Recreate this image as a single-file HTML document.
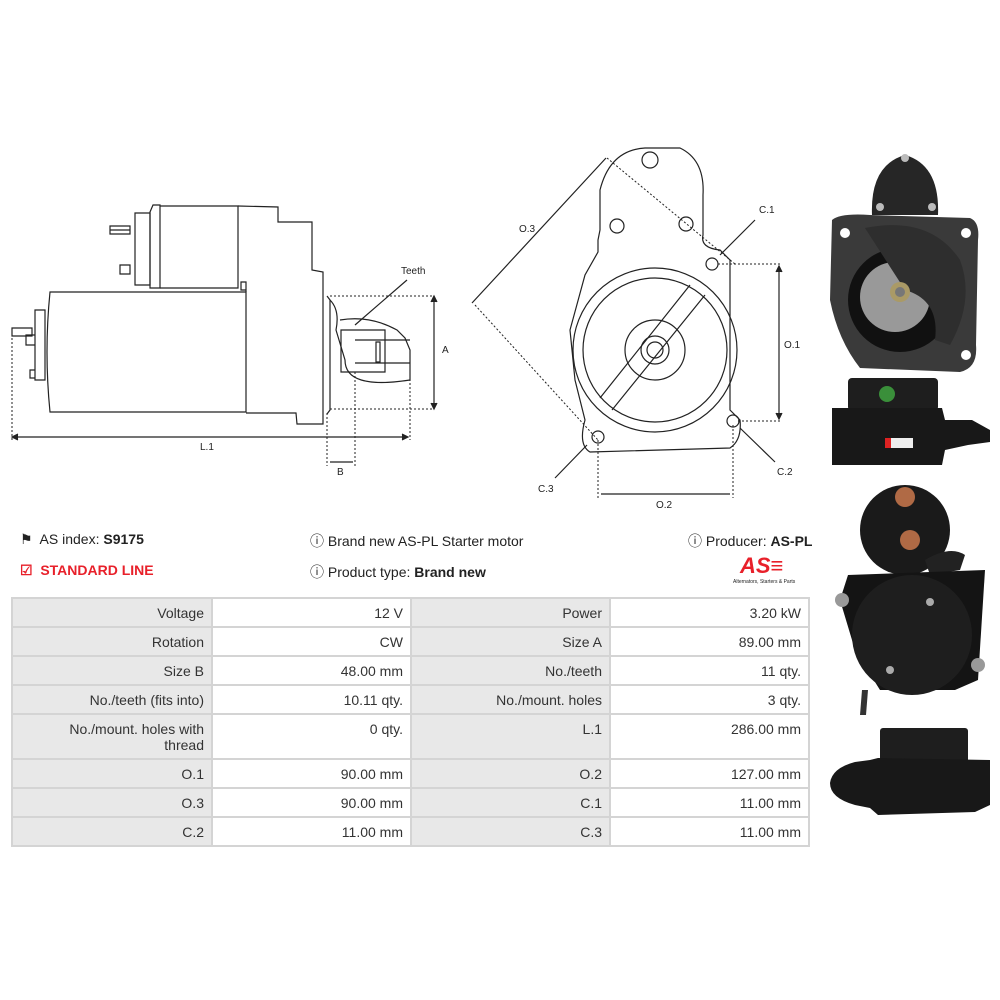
<!DOCTYPE html>
<html><head><meta charset="utf-8"><style>
body{margin:0;width:1000px;height:1000px;background:#fff;font-family:"Liberation Sans",sans-serif;position:relative;overflow:hidden;color:#222}
.t{position:absolute;font-size:14px;white-space:nowrap}
table{position:absolute;left:11px;top:597px;border-collapse:collapse;font-size:14px;color:#333}
td{border:2px solid #d4d4d4;text-align:right;padding:0 7px;vertical-align:top;padding-top:6px;height:21px}
td.g{background:#e8e8e8}
</style></head><body>
<svg width="1000" height="520" style="position:absolute;left:0;top:0" fill="none" stroke="#222" stroke-width="1.2">
<path d="M50 292 L246 292 L246 412 L50 412 Q44 352 50 292Z"/>
<path d="M246 292 L246 282 L241 282 L241 290 L246 290"/>
<path d="M153 205 L150 212 L150 288 L160 288 L160 205Z"/>
<path d="M160 206 L238 206 L238 288 L160 288"/>
<path d="M238 206 L278 207 L278 222 L312 222 L312 270 L323 272 L323 424 L297 424 L296 413 L246 413"/>
<path d="M135 213 L150 213 L150 285 L135 285Z"/>
<path d="M110 230 L130 230 M110 226 L130 226 L130 234 L110 234Z M120 265 L130 265 L130 274 L120 274Z"/>
<path d="M35 310 L45 310 L45 380 L35 380Z M26 335 L35 335 L35 345 L26 345Z M30 370 L35 370 L35 378 L30 378Z M12 328 L32 328 L32 336 L12 336Z"/>
<path d="M327 296 L330 300 L330 410 L327 414"/>
<path d="M330 300 Q340 310 336 330 L345 360 Q345 390 410 380 L410 350 L405 338 L397 330 Q370 315 340 320"/>
<path d="M341 330 L385 330 L385 372 L341 372Z M376 342 L380 342 L380 362 L376 362Z M355 340 L410 340 M355 363 L410 363"/>
<g stroke-dasharray="2,2" stroke-width="1">
<path d="M330 296 L433 296 M330 409 L433 409 M12 338 L12 440 M410 363 L410 440 M327 413 L327 466 M355 372 L355 466"/>
</g>
<path d="M434 298 L434 407 M14 437 L406 437 M330 462 L353 462" />
<path d="M431 302 L434 296 L437 302 M431 403 L434 409 L437 403 M18 434 L12 437 L18 440 M402 434 L408 437 L402 440" fill="#222"/>
<path d="M355 325 L407 280"/>
<path d="M598 240 L600 230 L600 190 Q610 150 645 148 L680 148 Q705 160 703 195 L703 235 Q700 248 720 250 L730 260 L730 410 L740 420 Q742 440 730 448 L590 452 Q578 445 585 420 L575 380 L570 330 L585 275 L598 252Z"/>
<circle cx="650" cy="160" r="8"/><circle cx="617" cy="226" r="7"/><circle cx="686" cy="224" r="7"/>
<circle cx="712" cy="264" r="6"/><circle cx="733" cy="421" r="6"/><circle cx="598" cy="437" r="6"/>
<circle cx="655" cy="350" r="82"/><circle cx="655" cy="350" r="72"/><circle cx="655" cy="350" r="30"/><circle cx="655" cy="350" r="14"/><circle cx="655" cy="350" r="8"/>
<path d="M600 398 L690 285 M612 410 L705 295"/>
<g stroke-dasharray="2,2" stroke-width="1">
<path d="M607 158 L735 264 M718 264 L780 264 M738 421 L780 421 M598 440 L598 498 M733 425 L733 498 M475 305 L598 440"/>
</g>
<path d="M779 268 L779 417 M601 494 L730 494 M472 303 L606 158 M720 255 L755 220 M587 445 L555 478 M740 428 L775 462"/>
<path d="M776 272 L779 266 L782 272 M776 413 L779 419 L782 413" fill="#222"/>
</svg>
<svg width="1000" height="1000" style="position:absolute;left:0;top:0" stroke="none">
<!-- photo 1 -->
<path d="M872 215 Q870 165 905 155 Q940 165 938 215Z" fill="#262626"/>
<circle cx="905" cy="158" r="4" fill="#bbb"/><circle cx="880" cy="207" r="4" fill="#bbb"/><circle cx="932" cy="207" r="4" fill="#bbb"/>
<path d="M832 220 Q840 213 870 215 L970 218 Q980 222 978 240 L976 345 Q978 368 960 372 L860 368 Q838 340 830 300Z" fill="#3a3a3a"/>
<circle cx="845" cy="233" r="5" fill="#fff"/><circle cx="966" cy="233" r="5" fill="#fff"/><circle cx="966" cy="355" r="5" fill="#fff"/>
<circle cx="900" cy="300" r="52" fill="#111"/>
<circle cx="895" cy="297" r="35" fill="#999"/>
<path d="M865 228 Q930 215 960 260 Q975 300 950 345 L935 340 Q940 300 905 290 Z" fill="#2e2e2e"/>
<circle cx="900" cy="292" r="10" fill="#aa9a66"/><circle cx="900" cy="292" r="5" fill="#777"/>
<!-- photo 2 -->
<rect x="848" y="378" width="90" height="33" rx="4" fill="#1e1e1e"/>
<circle cx="887" cy="394" r="8" fill="#3a8f3a"/>
<path d="M832 408 L942 408 L945 420 L972 420 L990 430 L990 442 L968 445 L945 450 L942 465 L832 465 Z" fill="#181818"/>
<rect x="885" y="438" width="28" height="10" fill="#eee"/><rect x="885" y="438" width="6" height="10" fill="#d22"/>
<!-- photo 3 -->
<circle cx="905" cy="530" r="45" fill="#1a1a1a"/>
<circle cx="905" cy="497" r="10" fill="#b06a45"/><circle cx="910" cy="540" r="10" fill="#b06a45"/>
<path d="M925 560 Q950 545 965 555 L960 570 L930 575Z" fill="#222"/>
<path d="M848 575 L985 570 L978 680 L955 690 L880 690 L855 650 L840 600Z" fill="#141414"/>
<circle cx="912" cy="635" r="60" fill="#1e1e1e"/>
<circle cx="842" cy="600" r="7" fill="#999"/><circle cx="978" cy="665" r="7" fill="#999"/>
<circle cx="930" cy="602" r="4" fill="#aaa"/><circle cx="890" cy="670" r="4" fill="#aaa"/>
<path d="M862 690 L860 715 L866 715 L868 690Z" fill="#333"/>
<!-- photo 4 -->
<rect x="880" y="728" width="88" height="35" rx="3" fill="#1e1e1e"/>
<path d="M878 758 L990 760 L990 805 L975 812 L878 815 L870 808 L855 805 Q830 798 830 783 Q832 768 855 762 L870 760Z" fill="#181818"/>
</svg>
<div class="t" style="left:20px;top:531px">&#9873;&nbsp; AS index: <b>S9175</b></div>
<div class="t" style="left:20px;top:562px;color:#e8202a;font-weight:bold">&#9745;&nbsp; STANDARD LINE</div>
<div class="t" style="left:310px;top:531px">&#9432; Brand new AS-PL Starter motor</div>
<div class="t" style="left:310px;top:562px">&#9432; Product type: <b>Brand new</b></div>
<div class="t" style="left:688px;top:531px">&#9432; Producer: <b>AS-PL</b></div>
<div class="t" style="left:740px;top:553px;color:#e8202a;font-weight:bold;font-style:italic;font-size:22px">AS≡</div>
<div class="t" style="left:733px;top:579px;font-size:5px">Alternators, Starters &amp; Parts</div>
<div class="t" style="left:401px;top:266px;font-size:10px">Teeth</div>
<div class="t" style="left:442px;top:345px;font-size:10px">A</div>
<div class="t" style="left:200px;top:442px;font-size:10px">L.1</div>
<div class="t" style="left:337px;top:467px;font-size:10px">B</div>
<div class="t" style="left:519px;top:224px;font-size:10px">O.3</div>
<div class="t" style="left:759px;top:205px;font-size:10px">C.1</div>
<div class="t" style="left:784px;top:340px;font-size:10px">O.1</div>
<div class="t" style="left:777px;top:467px;font-size:10px">C.2</div>
<div class="t" style="left:538px;top:484px;font-size:10px">C.3</div>
<div class="t" style="left:656px;top:500px;font-size:10px">O.2</div>
<table>
<colgroup><col style="width:200px"><col style="width:199px"><col style="width:199px"><col style="width:199px"></colgroup>
<tr><td class="g">Voltage</td><td>12 V</td><td class="g">Power</td><td>3.20 kW</td></tr>
<tr><td class="g">Rotation</td><td>CW</td><td class="g">Size A</td><td>89.00 mm</td></tr>
<tr><td class="g">Size B</td><td>48.00 mm</td><td class="g">No./teeth</td><td>11 qty.</td></tr>
<tr><td class="g">No./teeth (fits into)</td><td>10.11 qty.</td><td class="g">No./mount. holes</td><td>3 qty.</td></tr>
<tr><td class="g" style="height:37px">No./mount. holes with<br>thread</td><td>0 qty.</td><td class="g">L.1</td><td>286.00 mm</td></tr>
<tr><td class="g">O.1</td><td>90.00 mm</td><td class="g">O.2</td><td>127.00 mm</td></tr>
<tr><td class="g">O.3</td><td>90.00 mm</td><td class="g">C.1</td><td>11.00 mm</td></tr>
<tr><td class="g">C.2</td><td>11.00 mm</td><td class="g">C.3</td><td>11.00 mm</td></tr>
</table>
</body></html>
